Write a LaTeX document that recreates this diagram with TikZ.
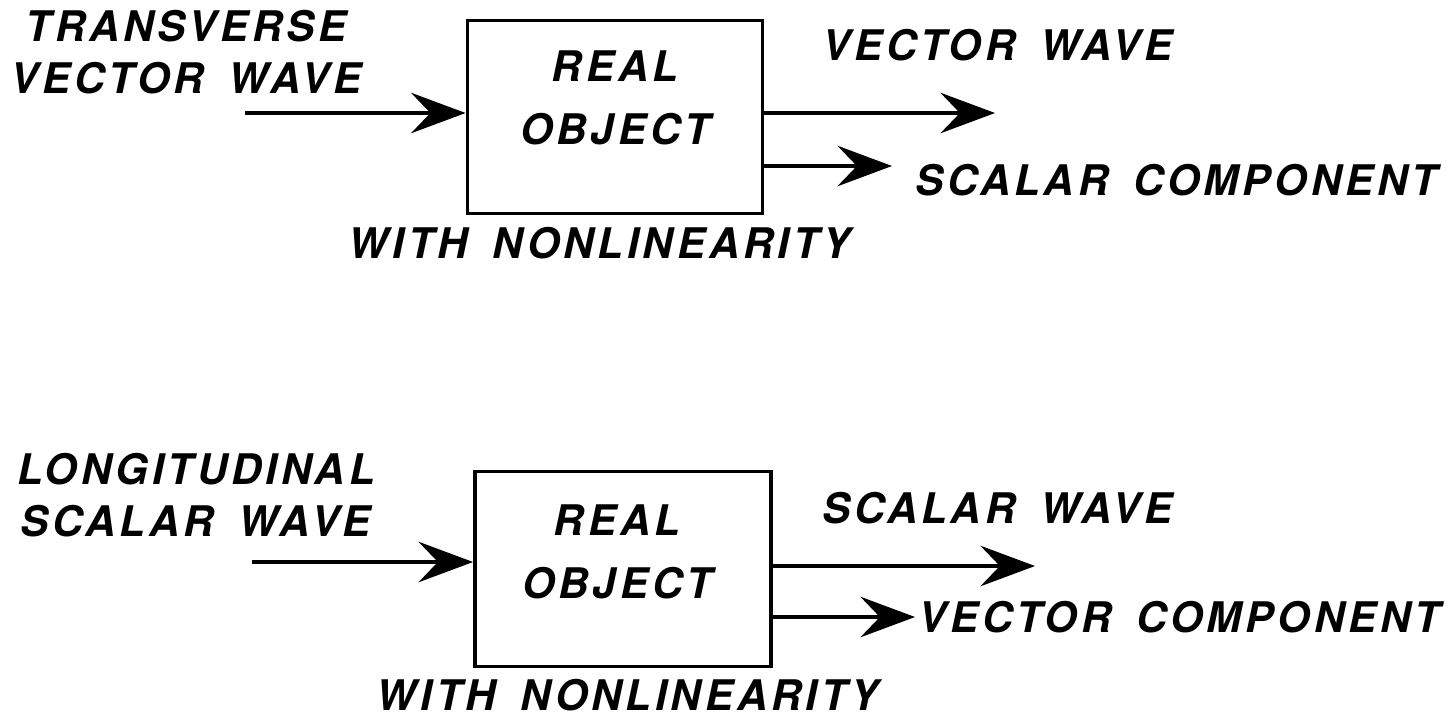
\documentclass[tikz,border=0pt]{standalone}
\usepackage{fontspec}
\setmainfont{TeX Gyre Heros}[LetterSpace=9, WordSpace=1.6]
\usetikzlibrary{arrows.meta}
\begin{document}
\begin{tikzpicture}[x=0.02cm,y=-0.02cm,
  lbl/.style={font=\fontsize{24}{30}\selectfont\bfseries\itshape, inner sep=0pt, align=center},
  boxtxt/.style={lbl, font=\fontsize{24}{36}\selectfont\bfseries\itshape},
  obj/.style={draw, line width=2.2pt, minimum width=295*0.02cm, minimum height=193*0.02cm, inner sep=0pt},
  flow/.style={line width=2.3pt, -{Stealth[length=31pt,width=23pt,inset=11pt]}}
]
\useasboundingbox (0,0) rectangle (1450,718);
% ---- top diagram ----
\node[lbl] (tin) at (186,52) {TRANSVERSE\\VECTOR WAVE};
\node[obj] (b1) at (615,117) {};
\node[boxtxt] (b1t) at (615,98) {REAL\\OBJECT};
\node[lbl] (b1n) at (600,243) {WITH NONLINEARITY};
\coordinate (s1) at (245,113);
\draw[flow] (s1) -- (s1 -| b1.west);
\coordinate (o1a) at (995,113);
\coordinate (o1b) at (892,166);
\draw[flow] (o1a -| b1.east) -- (o1a);
\draw[flow] (o1b -| b1.east) -- (o1b);
\node[lbl, anchor=west] (t1a) at (822,45) {VECTOR WAVE};
\node[lbl, anchor=west] (t1b) at (915,180) {SCALAR COMPONENT};
% ---- bottom diagram ----
\node[lbl] (lin) at (196,495) {LONGITUDINAL\\SCALAR WAVE};
\node[obj, minimum height=195*0.02cm, minimum width=296*0.02cm] (b2) at (623,569) {};
\node[boxtxt] (b2t) at (617,552) {REAL\\OBJECT};
\node[lbl] (b2n) at (628,695) {WITH NONLINEARITY};
\coordinate (s2) at (252,562);
\draw[flow] (s2) -- (s2 -| b2.west);
\coordinate (o2a) at (1035,566);
\coordinate (o2b) at (915,617);
\draw[flow] (o2a -| b2.east) -- (o2a);
\draw[flow] (o2b -| b2.east) -- (o2b);
\node[lbl, anchor=west] (t2a) at (822,508) {SCALAR WAVE};
\node[lbl, anchor=west] (t2b) at (918,617) {VECTOR COMPONENT};
\end{tikzpicture}
\end{document}
